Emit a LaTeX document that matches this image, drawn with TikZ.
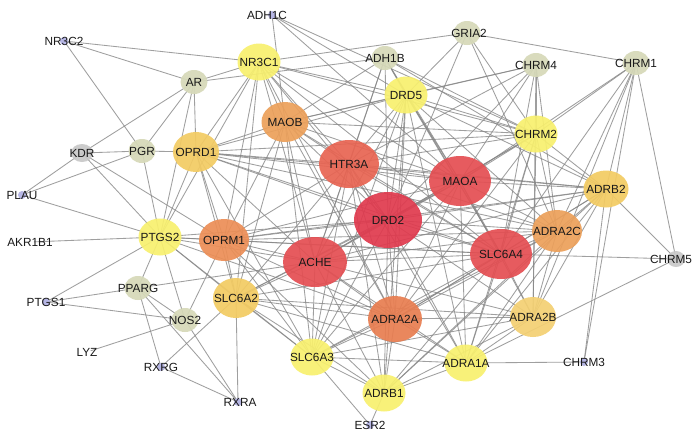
\documentclass[tikz,border=0pt]{standalone}
\usepackage{fontspec}
\setmainfont{Liberation Sans}
\usetikzlibrary{shapes.geometric,backgrounds}
\definecolor{cDRD}{RGB}{224,58,78}
\definecolor{cRed}{RGB}{228,78,82}
\definecolor{cHTR}{RGB}{232,100,82}
\definecolor{cO1}{RGB}{232,125,80}
\definecolor{cO2}{RGB}{236,142,86}
\definecolor{cO3}{RGB}{236,160,90}
\definecolor{cYO}{RGB}{243,203,98}
\definecolor{cY}{RGB}{248,240,110}
\definecolor{cGG}{RGB}{214,217,184}
\definecolor{cGr}{RGB}{200,200,200}
\definecolor{cPu}{RGB}{182,182,228}
\definecolor{cEdge}{RGB}{135,135,135}
\tikzset{
  x=1pt,y=-1pt,
  nd/.style={ellipse,inner sep=0pt,draw=none,fill opacity=0.92},
  bigN/.style={nd,minimum width=62pt,minimum height=50pt},
  midN/.style={nd,minimum width=50pt,minimum height=42pt},
  yN/.style={nd,minimum width=43pt,minimum height=37pt},
  ggN/.style={nd,fill=cGG,minimum width=27pt,minimum height=24pt},
  dotN/.style={circle,inner sep=0pt,minimum size=8pt,fill=cPu},
  lbl/.style={inner sep=0pt,font=\fontsize{11.8}{12}\selectfont,text=black!90},
  edge/.style={draw=cEdge,line width=0.85pt,draw opacity=0.8}
}
\begin{document}
\begin{tikzpicture}
\useasboundingbox (0,0) rectangle (700,432);
% big red
\node[bigN,fill=cDRD,minimum width=68pt,minimum height=56pt] (DRD2) at (388,220) {};
\node[bigN,fill=cHTR,minimum width=60pt,minimum height=48pt] (HTR3A) at (349,164) {};
\node[bigN,fill=cRed] (MAOA) at (460,181) {};
\node[bigN,fill=cRed,minimum width=64pt] (ACHE) at (315,262) {};
\node[bigN,fill=cRed] (SLC6A4) at (501,254) {};
% orange
\node[midN,fill=cO1,minimum width=54pt,minimum height=46pt] (ADRA2A) at (395,319) {};
\node[midN,fill=cO2] (OPRM1) at (224,240) {};
\node[midN,fill=cO3] (ADRA2C) at (557,231) {};
\node[midN,fill=cO3,minimum width=47pt,minimum height=40pt] (MAOB) at (285,122) {};
% yellow-orange
\node[yN,fill=cYO,minimum width=46pt,minimum height=40pt] (OPRD1) at (196,152) {};
\node[yN,fill=cYO,minimum width=45pt] (ADRB2) at (606,189) {};
\node[yN,fill=cYO,minimum width=46pt,minimum height=40pt] (SLC6A2) at (236,298) {};
\node[yN,fill=cYO!90!white,minimum width=46pt,minimum height=40pt] (ADRA2B) at (533,317) {};
% yellow
\node[yN,fill=cY] (NR3C1) at (259,62) {};
\node[yN,fill=cY] (DRD5) at (406,95) {};
\node[yN,fill=cY] (CHRM2) at (536,134) {};
\node[yN,fill=cY] (PTGS2) at (160,237) {};
\node[yN,fill=cY] (SLC6A3) at (312,357) {};
\node[yN,fill=cY] (ADRA1A) at (466,363) {};
\node[yN,fill=cY] (ADRB1) at (384,393) {};
% grey-green
\node[ggN] (ADH1B) at (385,58) {};
\node[ggN] (GRIA2) at (467,33) {};
\node[ggN] (CHRM4) at (536,65) {};
\node[ggN] (CHRM1) at (636,63) {};
\node[ggN] (AR) at (194,82) {};
\node[ggN] (PGR) at (142,151) {};
\node[ggN] (PPARG) at (138,288) {};
\node[ggN] (NOS2) at (185,320) {};
\node[ggN,fill=cGr,minimum width=22pt,minimum height=18pt] (KDR) at (82,153) {};
\node[ggN,fill=cGr,minimum width=18pt,minimum height=16pt] (CHRM5) at (676,259) {};
% purple dots
\node[dotN] (ADH1C) at (272,15) {};
\node[dotN] (NR3C2) at (64,41) {};
\node[dotN] (PLAU) at (22,195) {};
\node[dotN,fill=white] (AKR1B1) at (30,242) {};
\node[dotN] (PTGS1) at (46,302) {};
\node[dotN,fill=white] (LYZ) at (87,352) {};
\node[dotN] (RXRG) at (161,367) {};
\node[dotN] (RXRA) at (238,402) {};
\node[dotN] (CHRM3) at (584,362) {};
\node[dotN] (ESR2) at (370,425) {};
% labels
\foreach \n/\t/\dx in {DRD2/DRD2/0,HTR3A/HTR3A/0,MAOA/MAOA/0,ACHE/ACHE/0,SLC6A4/SLC6A4/0,ADRA2A/ADRA2A/0,OPRM1/OPRM1/0,ADRA2C/ADRA2C/0,MAOB/MAOB/0,OPRD1/OPRD1/0,ADRB2/ADRB2/0,SLC6A2/SLC6A2/0,ADRA2B/ADRA2B/0,NR3C1/NR3C1/0,DRD5/DRD5/0,CHRM2/CHRM2/0,PTGS2/PTGS2/0,SLC6A3/SLC6A3/0,ADRA1A/ADRA1A/0,ADRB1/ADRB1/0,ADH1B/ADH1B/0,GRIA2/GRIA2/2,CHRM4/CHRM4/0,CHRM1/CHRM1/0,AR/AR/0,PGR/PGR/0,PPARG/PPARG/0,NOS2/NOS2/0,KDR/KDR/0,CHRM5/CHRM5/-5,ADH1C/ADH1C/-5,NR3C2/NR3C2/0,PLAU/PLAU/0,AKR1B1/AKR1B1/0,PTGS1/PTGS1/0,LYZ/LYZ/0,RXRG/RXRG/0,RXRA/RXRA/2,CHRM3/CHRM3/0,ESR2/ESR2/0}
  \node[lbl] (\n-l) at ([xshift=\dx pt]\n.center) {\t};
\begin{scope}[on background layer]
\fill[white] (0,0) rectangle (700,432);
\foreach \a/\b in {
NR3C2/AR,NR3C2/NR3C1,NR3C2/PGR,
ADH1C/MAOB,ADH1C/DRD5,ADH1C/CHRM2,ADH1C/MAOA,
GRIA2/CHRM1,GRIA2/NR3C1,GRIA2/DRD5,GRIA2/DRD2,GRIA2/CHRM2,GRIA2/ADRA2C,
AR/NR3C1,AR/ADH1B,AR/KDR,AR/PGR,AR/OPRD1,AR/PTGS2,
KDR/PGR,KDR/PLAU,KDR/OPRM1,KDR/PTGS2,
PGR/PLAU,PGR/PTGS2,PGR/OPRD1,PLAU/PTGS2,AKR1B1/PTGS2,
PTGS1/PPARG,PTGS1/NOS2,PTGS1/PTGS2,LYZ/NOS2,
RXRG/PPARG,RXRG/RXRA,RXRG/SLC6A2,
RXRA/PPARG,RXRA/NOS2,RXRA/SLC6A2,
NOS2/PPARG,NOS2/PTGS2,NOS2/OPRM1,PPARG/PTGS2,PPARG/ACHE,
ESR2/ADRB1,ESR2/SLC6A3,
CHRM3/ADRA1A,CHRM3/CHRM1,CHRM3/ADRB2,
CHRM5/SLC6A4,CHRM5/ADRB2,CHRM5/CHRM1,CHRM5/ADRA1A,
CHRM1/CHRM2,CHRM1/ADRB2,CHRM1/ADRA2C,CHRM1/ADRA2B,CHRM1/SLC6A4,CHRM1/MAOA,
CHRM4/CHRM2,CHRM4/DRD5,CHRM4/HTR3A,CHRM4/MAOB,CHRM4/MAOA,CHRM4/DRD2,CHRM4/SLC6A4,CHRM4/ADRA2C,CHRM4/ADRA2B,
NR3C1/MAOB,NR3C1/OPRD1,NR3C1/OPRM1,NR3C1/HTR3A,NR3C1/DRD2,NR3C1/ACHE,NR3C1/SLC6A2,NR3C1/PTGS2,NR3C1/MAOA,NR3C1/DRD5,NR3C1/CHRM2,NR3C1/SLC6A4,NR3C1/ADRA2A,
ADH1B/MAOB,ADH1B/DRD5,ADH1B/HTR3A,ADH1B/MAOA,ADH1B/DRD2,ADH1B/SLC6A4,ADH1B/ADRB2,ADH1B/ACHE,ADH1B/CHRM2,
DRD5/MAOB,DRD5/HTR3A,DRD5/MAOA,DRD5/DRD2,DRD5/SLC6A4,DRD5/ACHE,DRD5/ADRA2A,DRD5/ADRA2C,DRD5/ADRB2,DRD5/CHRM2,DRD5/OPRD1,DRD5/SLC6A3,DRD5/ADRA1A,DRD5/ADRB1,
MAOB/OPRD1,MAOB/HTR3A,MAOB/MAOA,MAOB/DRD2,MAOB/ACHE,MAOB/SLC6A4,MAOB/OPRM1,MAOB/SLC6A2,MAOB/SLC6A3,MAOB/CHRM2,MAOB/ADRA2A,
CHRM2/MAOA,CHRM2/DRD2,CHRM2/ADRB2,CHRM2/ADRA2C,CHRM2/SLC6A4,CHRM2/HTR3A,CHRM2/ACHE,CHRM2/ADRA2A,CHRM2/ADRA2B,CHRM2/ADRA1A,CHRM2/OPRD1,
OPRD1/OPRM1,OPRD1/HTR3A,OPRD1/DRD2,OPRD1/ACHE,OPRD1/MAOA,OPRD1/SLC6A2,OPRD1/SLC6A3,OPRD1/PTGS2,OPRD1/SLC6A4,OPRD1/ADRA2C,OPRD1/ADRB2,
HTR3A/MAOA,HTR3A/DRD2,HTR3A/ACHE,HTR3A/SLC6A4,HTR3A/OPRM1,HTR3A/SLC6A2,HTR3A/SLC6A3,HTR3A/ADRA2A,HTR3A/ADRA2C,HTR3A/ADRB2,HTR3A/ADRA1A,HTR3A/ADRB1,
MAOA/DRD2,MAOA/ACHE,MAOA/SLC6A4,MAOA/ADRB2,MAOA/ADRA2C,MAOA/ADRA2A,MAOA/ADRA2B,MAOA/ADRA1A,MAOA/SLC6A2,MAOA/SLC6A3,MAOA/OPRM1,
ADRB2/DRD2,ADRB2/SLC6A4,ADRB2/ADRA2C,ADRB2/ADRA2A,ADRB2/ADRA2B,ADRB2/ADRA1A,ADRB2/ACHE,ADRB2/ADRB1,ADRB2/OPRM1,
DRD2/ACHE,DRD2/SLC6A4,DRD2/OPRM1,DRD2/PTGS2,DRD2/SLC6A2,DRD2/SLC6A3,DRD2/ADRA2A,DRD2/ADRA2B,DRD2/ADRA2C,DRD2/ADRA1A,DRD2/ADRB1,
OPRM1/ACHE,OPRM1/SLC6A2,OPRM1/SLC6A3,OPRM1/SLC6A4,OPRM1/PTGS2,OPRM1/ADRA2A,OPRM1/ADRA2C,OPRM1/ADRB1,
PTGS2/ACHE,PTGS2/SLC6A2,PTGS2/SLC6A3,PTGS2/SLC6A4,PTGS2/ADRA2A,
ADRA2C/SLC6A4,ADRA2C/ADRA2A,ADRA2C/ADRA2B,ADRA2C/ADRA1A,ADRA2C/ACHE,ADRA2C/ADRB1,ADRA2C/SLC6A3,
SLC6A4/ACHE,SLC6A4/ADRA2A,SLC6A4/ADRA2B,SLC6A4/ADRA1A,SLC6A4/SLC6A2,SLC6A4/SLC6A3,SLC6A4/ADRB1,
ACHE/SLC6A2,ACHE/SLC6A3,ACHE/ADRA2A,ACHE/ADRA2B,ACHE/ADRA1A,ACHE/ADRB1,
SLC6A2/SLC6A3,SLC6A2/ADRA2A,SLC6A2/ADRB1,SLC6A2/ADRA1A,SLC6A2/ADRA2B,
ADRA2A/SLC6A3,ADRA2A/ADRA1A,ADRA2A/ADRB1,ADRA2A/ADRA2B,
ADRA2B/ADRA1A,ADRA2B/ADRB1,ADRA2B/SLC6A3,
SLC6A3/ADRA1A,SLC6A3/ADRB1,ADRA1A/ADRB1}
  \draw[edge] (\a.center) -- (\b.center);
\end{scope}
\end{tikzpicture}
\end{document}
